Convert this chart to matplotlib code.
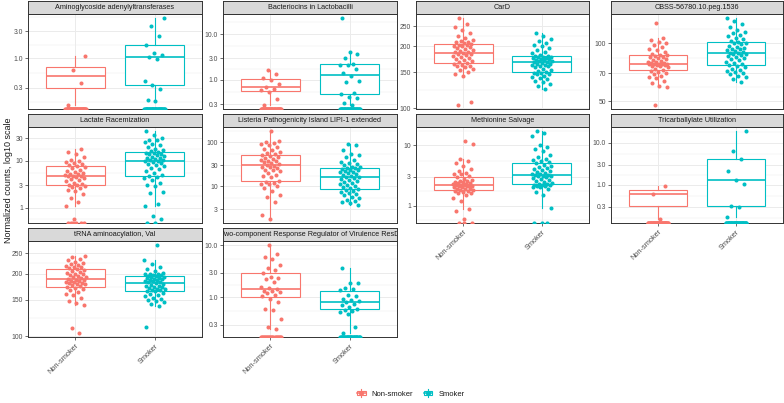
import numpy as np
import matplotlib
matplotlib.use("Agg")
import matplotlib.pyplot as plt
from matplotlib.ticker import FixedLocator, NullFormatter
from matplotlib.legend_handler import HandlerBase
from matplotlib.lines import Line2D
from matplotlib.patches import Rectangle

plt.rcParams['font.family'] = ['Liberation Sans', 'DejaVu Sans']

# ---------------- data ----------------
groups = ['Non-smoker', 'Smoker']
group_colors = ['#F8766D', '#00BFC4']

features = [
    'Aminoglycoside adenylyltransferases',
    'Bacteriocins in Lactobacilli',
    'CarD',
    'CBSS-56780.10.peg.1536',
    'Lactate Racemization',
    'Listeria Pathogenicity Island LIPI-1 extended',
    'Methionine Salvage',
    'Tricarballylate Utilization',
    'tRNA aminoacylation, Val',
    'Two-component Response Regulator of Virulence ResD',
]

amino_ns = [0.15, 0.37, 0.62, 1.08]
amino_sm = [0.175, 0.18, 0.29, 0.34, 0.40, 0.96, 1.03, 1.14, 1.26, 1.75, 2.45, 3.77, 5.1]

bact_ns = [0.29, 0.38, 0.56, 0.6, 0.64, 0.71, 0.8, 1.0, 1.1, 1.32, 1.64]
bact_sm = [0.29, 0.32, 0.40, 0.43, 0.50, 0.53, 0.89, 0.97, 1.22, 1.41, 1.75, 2.1,
           2.15, 2.25, 2.97, 3.7, 4.0, 22.0]

card_ns = [104, 107, 143, 146, 150, 153, 156, 158, 160, 161, 163, 164, 166, 168, 170, 171,
           173, 175, 177, 179, 181, 183, 184, 185, 187, 188, 190, 192, 194, 196, 198, 200,
           201, 203, 204, 205, 207, 209, 211, 213, 216, 220, 225, 232, 240, 248, 257, 274]
card_sm = [124, 128, 131, 134, 136, 138, 140, 142, 144, 146, 147, 148, 149, 150, 152, 154,
           156, 158, 160, 161, 162, 163, 164, 165, 166, 167, 168, 169, 170, 171, 172, 173,
           174, 175, 176, 177, 178, 178, 179, 180, 182, 185, 188, 192, 196, 200, 203, 207,
           212, 218, 225, 232]

cbss_ns = [48, 59, 60, 62, 64, 66, 67, 68, 69, 70, 71, 72, 73, 74, 75, 76, 76, 77, 77, 78,
           78, 78, 78, 78, 79, 79, 80, 80, 81, 82, 83, 84, 85, 85, 86, 86.5, 87, 88, 90, 92,
           94, 96, 98, 100, 102, 104, 107, 127]
cbss_sm = [63, 65, 67, 68, 69, 70, 71, 72, 73, 74, 75, 76, 77, 78, 79, 80, 82, 83, 84, 85,
           86, 87, 88, 88.5, 89, 89.5, 90, 91, 92, 93, 94, 95, 96, 97, 99, 100, 101, 102, 103,
           105, 107, 109, 111, 113, 115, 118, 121, 126, 131, 135]

lact_ns = [0.58, 1.07, 1.3, 1.6, 1.9, 2.2, 2.4, 2.6, 2.8, 2.9, 2.95, 3.0, 3.2, 3.4, 3.6, 3.8,
           4.0, 4.2, 4.4, 4.6, 4.7, 4.8, 4.9, 5.1, 5.3, 5.5, 5.6, 5.9, 6.3, 6.8, 7.4, 7.7, 8.0,
           8.4, 8.8, 9.2, 9.8, 10.5, 12, 13.5, 15.5, 17.7]
lact_sm = [0.58, 0.65, 1.07, 1.2, 2.0, 2.17, 2.9, 3.0, 3.3, 3.8, 4.2, 4.4, 4.6, 5.0, 5.5, 6.0,
           6.5, 7.0, 7.5, 8.0, 8.5, 9.0, 9.4, 9.7, 9.9, 10.1, 10.4, 10.8, 11.2, 11.6, 12, 12.5,
           13, 13.5, 14, 14.5, 14.8, 15.2, 16, 17, 18, 19.5, 21, 23, 25, 27, 28, 30, 35, 42]

list_ns = [1.85, 2.2, 4.4, 5.6, 6.3, 8.0, 9.0, 10, 11, 11.5, 12, 12.8, 13.5, 16, 17, 18, 20,
           22, 23, 24, 26, 27, 28, 29, 31, 32, 34, 35, 37, 38, 40, 42, 44, 46, 48, 50, 53, 56,
           60, 65, 70, 77, 85, 92, 95, 100, 105, 176]
list_sm = [3.85, 4.1, 4.4, 4.6, 5.0, 5.4, 5.8, 6.2, 6.8, 7.2, 7.6, 8.0, 8.2, 8.6, 9.0, 9.5,
           10, 10.5, 11, 12, 12.5, 13, 14, 15, 15.5, 16, 16.5, 17, 18, 19, 20, 21, 21.5, 22,
           23, 24, 25, 26, 26.5, 27, 28, 30, 32, 34, 36, 40, 45, 50, 55, 65, 85, 92]

meth_ns = [0.61, 0.81, 0.88, 1.2, 1.35, 1.5, 1.6, 1.65, 1.7, 1.75, 1.78, 1.8, 1.83, 1.87, 1.9,
           1.95, 2.0, 2.05, 2.1, 2.12, 2.15, 2.17, 2.18, 2.19, 2.2, 2.25, 2.3, 2.35, 2.4, 2.45,
           2.5, 2.55, 2.6, 2.7, 2.8, 2.95, 3.1, 3.3, 3.4, 3.5, 3.7, 4.0, 4.5, 5.0, 5.5, 6.0,
           10.5, 11.8]
meth_sm = [0.93, 1.5, 1.7, 1.9, 2.0, 2.05, 2.1, 2.15, 2.2, 2.22, 2.24, 2.25, 2.27, 2.35, 2.45,
           2.55, 2.65, 2.75, 2.85, 2.95, 3.05, 3.1, 3.15, 3.2, 3.25, 3.3, 3.4, 3.5, 3.6, 3.7,
           3.85, 4.0, 4.2, 4.4, 4.6, 4.8, 5.0, 5.2, 5.5, 5.8, 6.0, 6.5, 7.0, 8.0, 8.8, 9.5,
           10.0, 14.5, 15.7, 17]

tric_ns = [0.158, 0.6, 0.93]
tric_sm = [0.173, 0.30, 0.31, 1.07, 1.27, 2.15, 4.2, 6.2, 18.6]

trna_ns = [104, 109, 141, 144, 148, 152, 157, 160, 163, 166, 168, 170, 172, 174, 176, 178,
           179, 180, 181, 182, 183, 184, 185, 186, 187, 189, 190, 192, 193, 195, 196, 198,
           200, 202, 204, 206, 208, 210, 212, 214, 216, 218, 220, 222, 225, 228, 232, 236,
           240, 242]
trna_sm = [111, 140, 143, 146, 148, 150, 151, 153, 156, 158, 160, 162, 164, 165, 166, 167,
           168, 169, 170, 172, 173, 174, 175, 176, 178, 180, 182, 183, 184, 185, 186, 187,
           188, 189, 190, 191, 192, 193, 194, 195, 196, 197, 198, 199, 200, 202, 205, 210,
           215, 221, 232, 273]

resd_ns = [0.25, 0.27, 0.38, 0.58, 0.6, 0.8, 0.95, 1.05, 1.1, 1.2, 1.25, 1.3, 1.35, 1.45, 1.5,
           1.6, 2.0, 2.3, 2.4, 2.5, 2.9, 3.3, 3.7, 4.2, 5.4, 6.0, 6.7, 10]
resd_sm = [0.21, 0.265, 0.48, 0.53, 0.55, 0.58, 0.6, 0.65, 0.7, 0.75, 0.8, 0.84, 0.9, 0.95,
           1.05, 1.1, 1.4, 1.45, 1.5, 1.85, 1.9, 3.6]

# samples with zero counts (drawn at the bottom edge, -Inf on log scale)
zeros_ns = [44, 37, 0, 0, 6, 0, 3, 45, 0, 20]
zeros_sm = [39, 34, 0, 0, 2, 0, 3, 43, 0, 30]

values_ns = [amino_ns, bact_ns, card_ns, cbss_ns, lact_ns, list_ns, meth_ns, tric_ns, trna_ns, resd_ns]
values_sm = [amino_sm, bact_sm, card_sm, cbss_sm, lact_sm, list_sm, meth_sm, tric_sm, trna_sm, resd_sm]

y_ticks = [
    [0.3, 1, 3], [0.3, 1, 3, 10], [100, 150, 200, 250], [50, 70, 100],
    [1, 3, 10, 30], [3, 10, 30, 100], [1, 3, 10], [0.3, 1, 3, 10],
    [100, 150, 200, 250], [0.3, 1, 3, 10],
]
y_tick_labels = [
    ['0.3', '1.0', '3.0'], ['0.3', '1.0', '3.0', '10.0'], ['100', '150', '200', '250'],
    ['50', '70', '100'], ['1', '3', '10', '30'], ['3', '10', '30', '100'], ['1', '3', '10'],
    ['0.3', '1.0', '3.0', '10.0'], ['100', '150', '200', '250'], ['0.3', '1.0', '3.0', '10.0'],
]

# ---------------- helpers ----------------
W, H = 784, 403
fig = plt.figure(figsize=(W / 100, H / 100), dpi=100)


def rect(x0, y0, x1, y1):
    return [x0 / W, 1 - y1 / H, (x1 - x0) / W, (y1 - y0) / H]


def box_stats(vals):
    lv = np.log10(np.asarray(vals, dtype=float))
    q1, med, q3 = np.percentile(lv, [25, 50, 75])
    iqr = q3 - q1
    lo = lv[lv >= q1 - 1.5 * iqr].min()
    hi = lv[lv <= q3 + 1.5 * iqr].max()
    return dict(med=10 ** med, q1=10 ** q1, q3=10 ** q3, whislo=10 ** lo, whishi=10 ** hi, fliers=[])


def jitter(n, phase):
    i = np.arange(n)
    return (((i * 0.6180339887 + phase) % 1.0) * 2 - 1) * 0.13


def minor_breaks(majors, lo, hi):
    b = list(np.log10(majors))
    bd = b[1] - b[0]
    if lo < b[0]:
        b = [b[0] - bd] + b
    if hi > b[-1]:
        b = b + [b[-1] + bd]
    mids = [(b[k] + b[k + 1]) / 2 for k in range(len(b) - 1)]
    return [10 ** m for m in mids if lo <= m <= hi]


col_x = [(28, 202), (223, 397), (416, 589), (611, 783)]
row_y = [(14, 109), (127, 223), (241, 337)]
strip_h = 13
bottom_panels = {6, 7, 8, 9}

for k, name in enumerate(features):
    r, c = divmod(k, 4)
    x0, x1 = col_x[c]
    y0, y1 = row_y[r]
    ax = fig.add_axes(rect(x0, y0, x1, y1))
    sax = fig.add_axes(rect(x0, y0 - strip_h, x1, y0))

    data = [values_ns[k], values_sm[k]]
    zeros = [zeros_ns[k], zeros_sm[k]]
    allv = np.log10(np.concatenate([np.asarray(d, float) for d in data]))
    lo, hi = allv.min(), allv.max()
    pad = 0.05 * (hi - lo)
    ylo, yhi = lo - pad, hi + pad

    ax.set_yscale('log')
    ax.set_xlim(0.4, 2.6)
    ax.set_ylim(10 ** ylo, 10 ** yhi)

    for g in range(2):
        col = group_colors[g]
        st = box_stats(data[g])
        ax.bxp([st], positions=[g + 1], widths=0.75, showfliers=False, showcaps=False,
               patch_artist=True,
               boxprops=dict(facecolor='white', edgecolor=col, linewidth=0.8),
               medianprops=dict(color=col, linewidth=1.2),
               whiskerprops=dict(color=col, linewidth=0.8),
               manage_ticks=False, zorder=2)
        vals = np.asarray(data[g], float)
        ax.scatter(g + 1 + jitter(len(vals), 0.13 + 0.41 * g + 0.07 * k), vals, s=8.5,
                   color=col, linewidths=0, zorder=3)
        if zeros[g] > 0:
            ax.scatter(g + 1 + jitter(zeros[g], 0.29 + 0.23 * g), np.full(zeros[g], 10 ** ylo),
                       s=9, color=col, linewidths=0, zorder=3, clip_on=True)

    ax.set_yticks(y_ticks[k])
    ax.set_yticklabels(y_tick_labels[k])
    ax.yaxis.set_minor_locator(FixedLocator(minor_breaks(y_ticks[k], ylo, yhi)))
    ax.yaxis.set_minor_formatter(NullFormatter())
    ax.set_xticks([1, 2])
    ax.tick_params(axis='y', which='major', labelsize=4.9, labelcolor='#4D4D4D',
                   length=2.2, width=0.5, color='#333333', pad=1.5)
    ax.tick_params(which='minor', length=0)
    if k in bottom_panels:
        ax.set_xticklabels(groups, rotation=45, ha='right', va='top', rotation_mode='anchor')
        ax.tick_params(axis='x', labelsize=5.3, labelcolor='#4D4D4D', length=2.2, width=0.5,
                       color='#333333', pad=1.5)
    else:
        ax.set_xticklabels([])
        ax.tick_params(axis='x', length=0)
    ax.grid(True, which='major', color='#EBEBEB', linewidth=0.7)
    ax.grid(True, which='minor', axis='y', color='#EBEBEB', linewidth=0.35)
    ax.set_axisbelow(True)
    for sp in ax.spines.values():
        sp.set_color('#333333')
        sp.set_linewidth(0.7)

    sax.set_facecolor('#D9D9D9')
    sax.set_xticks([])
    sax.set_yticks([])
    for sp in sax.spines.values():
        sp.set_color('#333333')
        sp.set_linewidth(0.7)
    sax.text(0.5, 0.47, name, ha='center', va='center', fontsize=5.2, color='#1A1A1A',
             transform=sax.transAxes, clip_on=True)

fig.text(9 / W, 1 - 180 / H, 'Normalized counts, log10 scale', rotation=90, ha='center',
         va='center', fontsize=6.5, color='#1A1A1A')


class BoxKeyHandler(HandlerBase):
    def create_artists(self, legend, orig_handle, xdescent, ydescent, width, height, fontsize, trans):
        c = orig_handle.get_color()
        x0, y0 = -xdescent, -ydescent
        cx = x0 + width / 2
        box = Rectangle((x0 + 0.125 * width, y0 + 0.25 * height), 0.75 * width, 0.5 * height,
                        facecolor='white', edgecolor=c, lw=0.8, transform=trans)
        wl = Line2D([cx, cx], [y0 + 0.05 * height, y0 + 0.25 * height], color=c, lw=0.8, transform=trans)
        wh = Line2D([cx, cx], [y0 + 0.75 * height, y0 + 0.95 * height], color=c, lw=0.8, transform=trans)
        med = Line2D([x0 + 0.125 * width, x0 + 0.875 * width], [y0 + 0.5 * height] * 2,
                     color=c, lw=1.1, transform=trans)
        pt = Line2D([cx], [y0 + 0.5 * height], marker='o', ms=2.6, color=c, ls='none', transform=trans)
        return [box, wl, wh, med, pt]


handles = [Line2D([], [], color=group_colors[g]) for g in range(2)]
fig.legend(handles, groups, handler_map={Line2D: BoxKeyHandler()}, loc='center',
           bbox_to_anchor=(410 / W, 1 - 393 / H), ncol=2, frameon=False, fontsize=5.5,
           handlelength=1.5, handleheight=1.5, columnspacing=1.2, handletextpad=0.6,
           labelcolor='#1A1A1A')

fig.savefig('out.png', dpi=100)
